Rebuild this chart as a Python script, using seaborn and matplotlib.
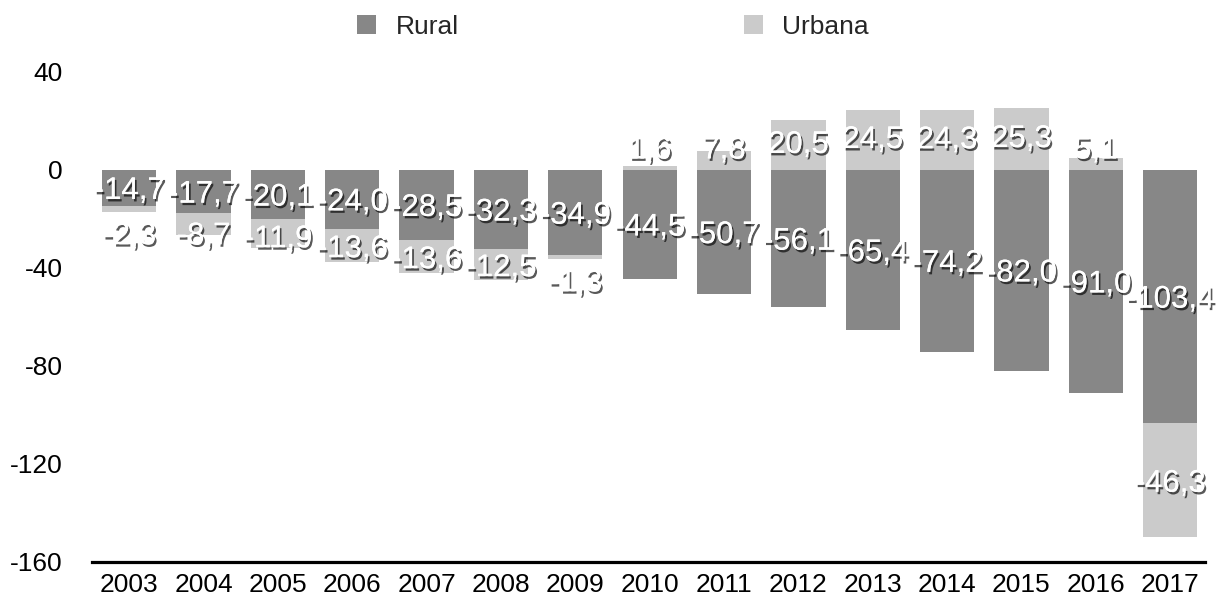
import matplotlib
matplotlib.use("Agg")
import matplotlib.pyplot as plt
import matplotlib.patheffects as pe
from matplotlib.patches import Patch
import seaborn as sns
import pandas as pd

# Resultado previdenciário por clientela, R$ bilhões
years = ["2003", "2004", "2005", "2006", "2007", "2008", "2009", "2010",
         "2011", "2012", "2013", "2014", "2015", "2016", "2017"]
rural = [-14.7, -17.7, -20.1, -24.0, -28.5, -32.3, -34.9, -44.5,
         -50.7, -56.1, -65.4, -74.2, -82.0, -91.0, -103.4]
urbana = [-2.3, -8.7, -11.9, -13.6, -13.6, -12.5, -1.3, 1.6,
          7.8, 20.5, 24.5, 24.3, 25.3, 5.1, -46.3]
series_names = ["Rural", "Urbana"]
yticks = [-160, -120, -80, -40, 0, 40]

RURAL_COLOR = "#878787"
URBANA_COLOR = "#cbcbcb"

sns.set_theme(style="white")
plt.rcParams["font.family"] = ["Liberation Sans", "DejaVu Sans"]
plt.rcParams["axes.unicode_minus"] = False

df = pd.DataFrame({"ano": years, "rural": rural, "urbana": urbana})
# urban segment stacks under the rural one when negative, starts at zero when positive
df["base_urbana"] = [r if u < 0 else 0.0 for r, u in zip(df["rural"], df["urbana"])]

fig = plt.figure(figsize=(12.16, 5.99), dpi=100)
ax = fig.add_axes([0.0757, 0.0618, 0.9153, 0.818])

sns.barplot(data=df, x="ano", y="rural", color=RURAL_COLOR, width=0.73,
            saturation=1, linewidth=0, ax=ax, order=years)
sns.barplot(data=df, x="ano", y="urbana", color=URBANA_COLOR, width=0.73,
            saturation=1, linewidth=0, ax=ax, order=years,
            bottom=df["base_urbana"].to_numpy())

ax.set_xlim(-0.5, 14.47)
ax.set_ylim(-160, 40)
ax.set_yticks(yticks)
ax.set_yticklabels([str(t) for t in yticks])
ax.set_xlabel("")
ax.set_ylabel("")
ax.grid(False)
for side in ["top", "right", "left"]:
    ax.spines[side].set_visible(False)
ax.spines["bottom"].set_color("black")
ax.spines["bottom"].set_linewidth(2.3)
ax.tick_params(axis="x", length=0, pad=8, labelsize=19, colors="black")
ax.tick_params(axis="y", length=0, pad=21, labelsize=19, colors="black")

label_fx = [pe.withSimplePatchShadow(offset=(1.3, -1.8), shadow_rgbFace="black", alpha=0.65),
            pe.Normal()]


def fmt(v):
    return f"{v:.1f}".replace(".", ",")


for i, (r, u, b) in enumerate(zip(df["rural"], df["urbana"], df["base_urbana"])):
    r_mid = r / 2 - 1.2
    ax.text(i, r_mid, fmt(r), ha="center", va="center", color="white",
            fontsize=22.5, path_effects=label_fx, zorder=5)
    if u >= 0:
        y = max(u / 2, 8)
    elif abs(u) < 3:
        y = b + u - 10
    else:
        y = min(b + u / 2 - 1.5, r_mid - 17)
    ax.text(i, y, fmt(u), ha="center", va="center", color="white",
            fontsize=22.5, path_effects=label_fx, zorder=5)

handles = [Patch(facecolor=RURAL_COLOR, edgecolor="none"),
           Patch(facecolor=URBANA_COLOR, edgecolor="none")]
fig.legend(handles, series_names, loc="center", bbox_to_anchor=(0.504, 0.955),
           ncol=2, frameon=False, fontsize=19, handlelength=0.72, handleheight=0.72,
           handletextpad=0.75, columnspacing=10.8)

fig.savefig("out.png", dpi=100)
